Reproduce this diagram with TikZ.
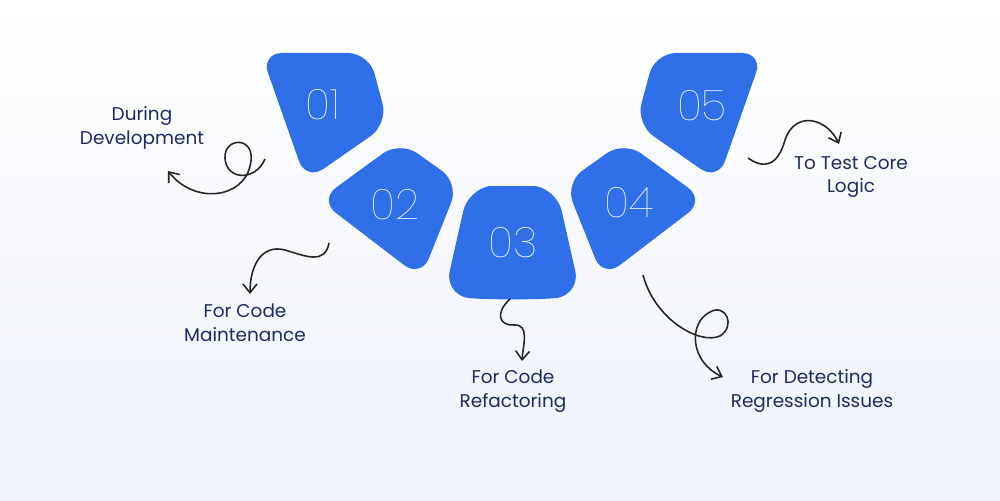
\documentclass[tikz,border=0pt]{standalone}
\usepackage{fontspec}
\setmainfont{Poppins}
\newfontfamily\thinf{Poppins Thin}
\usetikzlibrary{arrows.meta}
\definecolor{blk}{HTML}{2F6FE8}
\definecolor{navy}{HTML}{1E2B5E}
\definecolor{bgtop}{HTML}{FFFFFF}
\definecolor{bgbot}{HTML}{EEF2FB}
\begin{document}
\begin{tikzpicture}[x=0.02cm,y=-0.02cm,
  blob/.style={fill=blk,rounded corners=12pt},
  num/.style={text=white,font=\thinf\fontsize{24}{24}\selectfont},
  lab/.style={text=navy,align=center,font=\fontsize{10.5}{13.5}\selectfont},
  curl/.style={line width=0.9pt,black!85,-{Straight Barb[length=5pt,width=8pt]}}]
\shade[top color=bgtop,bottom color=bgbot] (0,0) rectangle (1000,500);
\useasboundingbox (0,0) rectangle (1000,500);
% shapes
\fill[blob] (261,53) -- (369,53) -- (388,124) -- (306,181) -- cycle;
\fill[blob] (763,53) -- (655,53) -- (636,124) -- (718,181) -- cycle;
\fill[blob] (400,141) -- (459,183) -- (421,278) -- (319,200) -- cycle;
\fill[blob] (624,141) -- (565,183) -- (603,278) -- (705,200) -- cycle;
\fill[blob] (468,190) .. controls (490,186) and (535,186) .. (557,190) -- (580,292) .. controls (550,300) and (475,300) .. (445,292) -- cycle;
\node[num] (n1) at (323,105) {01};
\node[num] (n2) at (395,205) {02};
\node[num] (n3) at (513,243) {03};
\node[num] (n4) at (629,203) {04};
\node[num] (n5) at (702,106) {05};
% labels
\node[lab] (l1) at (142,128) {During\\Development};
\node[lab] (l2) at (245,323) {For Code\\Maintenance};
\node[lab] (l3) at (513,391) {For Code\\Refactoring};
\node[lab] (l4) at (812,391) {For Detecting\\Regression Issues};
\node[lab] (l5) at (851,177) {To Test Core\\Logic};
% arrows
\coordinate (s1) at (265,159); \coordinate (e1) at (168,171);
\draw[curl] (s1) .. controls (255,182) and (226,180) .. (225,158) .. controls (224,136) and (258,136) .. (250,166) .. controls (243,198) and (195,205) .. (e1);
\coordinate (s2) at (329,243); \coordinate (e2) at (250,294);
\draw[curl] (s2) .. controls (325,265) and (305,256) .. (285,250) .. controls (262,244) and (250,265) .. (e2);
\coordinate (s3) at (510,299); \coordinate (e3) at (522,361);
\draw[curl] (s3) .. controls (494,314) and (500,326) .. (514,325) .. controls (530,324) and (523,345) .. (e3);
\coordinate (s4) at (643,275); \coordinate (e4) at (723,377);
\draw[curl] (s4) .. controls (655,320) and (700,345) .. (720,336) .. controls (736,326) and (726,303) .. (710,312) .. controls (688,323) and (690,362) .. (e4);
\coordinate (s5) at (748,158); \coordinate (e5) at (839,144);
\draw[curl] (s5) .. controls (765,170) and (778,165) .. (785,140) .. controls (795,110) and (827,118) .. (e5);
\end{tikzpicture}
\end{document}
